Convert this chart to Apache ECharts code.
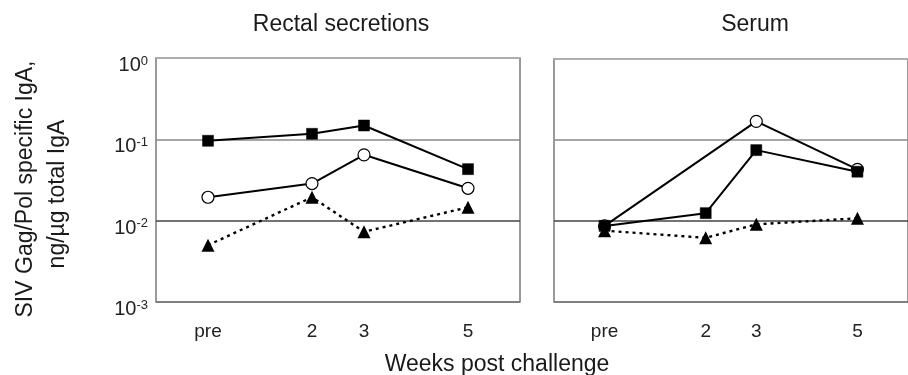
<!DOCTYPE html>
<html>
<head>
<meta charset="utf-8">
<script src="https://cdn.jsdelivr.net/npm/echarts@6/dist/echarts.min.js"></script>
<style>
html,body{margin:0;padding:0;background:#fff;}
#c{width:908px;height:375px;}
</style>
</head>
<body>
<div id="c"></div>
<script>
// ---- data ----
var weeks = [0, 2, 3, 5];
var weekLabels = ['pre', '2', '3', '5'];
var panelTitles = ['Rectal secretions', 'Serum'];
var yAxisTitle = ['SIV Gag/Pol specific IgA,', 'ng/\u00b5g total IgA'];
var xAxisTitle = 'Weeks post challenge';

var rectalSquare   = [0.096, 0.117, 0.148, 0.043];
var rectalCircle   = [0.0194, 0.0286, 0.0645, 0.025];
var rectalTriangle = [0.005, 0.0194, 0.0073, 0.0146];

var serumSquare   = [0.0087, 0.0125, 0.075, 0.0406];
var serumCircle   = [0.0087, null, 0.17, 0.0434];
var serumTriangle = [0.0076, 0.0062, 0.0091, 0.0108];

var yTickValues = [0.001, 0.01, 0.1, 1];

// ---- chart ----
var FONT = 'Liberation Sans, Arial, sans-serif';
function pairs(vals) {
  return weeks.map(function (w, i) { return [w, vals[i]]; });
}
function xFmt(v) {
  var i = weeks.indexOf(v);
  return i >= 0 ? weekLabels[i] : '';
}
function yFmt(v) {
  var e = Math.round(Math.log(v) / Math.LN10);
  return '{b|10}{s|' + e + '}';
}

function xAxis(gi) {
  return {
    type: 'value', gridIndex: gi, min: -1, max: 6, interval: 1,
    axisLine: {show: false}, axisTick: {show: false}, splitLine: {show: false},
    axisLabel: {formatter: xFmt, margin: 20, fontSize: 19, color: '#222', fontFamily: FONT, showMinLabel: false, showMaxLabel: false}
  };
}
function yAxis(gi, labels) {
  return {
    type: 'log', logBase: 10, gridIndex: gi, min: 0.001, max: 1,
    axisLine: {show: false}, axisTick: {show: false},
    splitLine: {show: true, lineStyle: {color: ['#777', '#444', '#888', '#b5b5b5'], width: 1.5}},
    axisLabel: {
      show: labels, formatter: yFmt, margin: 8, padding: [15, 0, 0, 0],
      rich: {
        b: {fontSize: 20, color: '#222', fontFamily: FONT},
        s: {fontSize: 13, color: '#222', fontFamily: FONT, padding: [0, 0, 9, 0]}
      }
    }
  };
}
function series(gi, vals, kind) {
  var base = {
    type: 'line', xAxisIndex: gi, yAxisIndex: gi, data: pairs(vals),
    connectNulls: true, animation: false, silent: true
  };
  if (kind === 'square') {
    base.symbol = 'rect'; base.symbolSize = 11;
    base.itemStyle = {color: '#000', borderColor: '#000', borderWidth: 0.5};
    base.lineStyle = {color: '#000', width: 2};
    base.z = 4;
  } else if (kind === 'circle') {
    base.symbol = 'circle'; base.symbolSize = 12;
    base.itemStyle = {color: '#fff', borderColor: '#000', borderWidth: 1.2};
    base.lineStyle = {color: '#000', width: 2};
    base.z = 2;
  } else {
    base.symbol = 'triangle'; base.symbolSize = 13;
    base.itemStyle = {color: '#000'};
    base.lineStyle = {color: '#000', width: 2.4, type: [3, 4]};
    base.z = 3;
  }
  return base;
}

var chart = echarts.init(document.getElementById('c'), null, {renderer: 'canvas'});
chart.setOption({
  backgroundColor: '#fff',
  animation: false,
  title: [
    {text: panelTitles[0], left: 336, top: 8, textAlign: 'center',
     textStyle: {fontSize: 23, fontWeight: 'normal', color: '#1a1a1a', fontFamily: FONT}},
    {text: panelTitles[1], left: 750, top: 8, textAlign: 'center',
     textStyle: {fontSize: 23, fontWeight: 'normal', color: '#1a1a1a', fontFamily: FONT}},
    {text: xAxisTitle, left: 492, top: 348, textAlign: 'center',
     textStyle: {fontSize: 23, fontWeight: 'normal', color: '#1a1a1a', fontFamily: FONT}}
  ],
  graphic: [
    {type: 'text', x: 26, y: 189, rotation: Math.PI / 2,
     style: {text: yAxisTitle[0], align: 'center', verticalAlign: 'middle', fill: '#1a1a1a', font: '23px ' + FONT}},
    {type: 'text', x: 58, y: 194, rotation: Math.PI / 2,
     style: {text: yAxisTitle[1], align: 'center', verticalAlign: 'middle', fill: '#1a1a1a', font: '23px ' + FONT}}
  ],
  grid: [
    {left: 156, top: 58, width: 364, height: 244, show: true, borderColor: '#7a7a7a', borderWidth: 1.5},
    {left: 554, top: 59, width: 364, height: 243, show: true, borderColor: '#7a7a7a', borderWidth: 1.5}
  ],
  xAxis: [xAxis(0), xAxis(1)],
  yAxis: [yAxis(0, true), yAxis(1, false)],
  series: [
    series(0, rectalCircle, 'circle'),
    series(0, rectalTriangle, 'triangle'),
    series(0, rectalSquare, 'square'),
    series(1, serumCircle, 'circle'),
    series(1, serumTriangle, 'triangle'),
    series(1, serumSquare, 'square')
  ]
});
</script>
</body>
</html>
